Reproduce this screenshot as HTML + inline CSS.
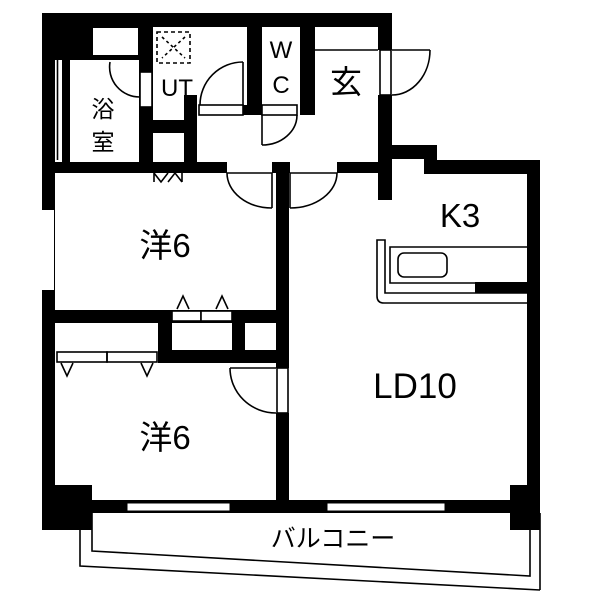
<!DOCTYPE html>
<html><head><meta charset="utf-8"><style>
html,body{margin:0;padding:0;background:#fff;}
svg{display:block;}
text{font-family:"Liberation Sans","Noto Sans CJK JP",sans-serif;fill:#000;}
</style></head><body>
<svg width="600" height="600" viewBox="0 0 600 600" xmlns="http://www.w3.org/2000/svg">
<rect width="600" height="600" fill="#fff"/>
<g fill="#000">
<rect x="42" y="13" width="350" height="14"/>
<rect x="42" y="13" width="108" height="47"/>
<rect x="42" y="13" width="13" height="500"/>
<rect x="42" y="162" width="185" height="11"/>
<rect x="272" y="162" width="18" height="11"/>
<rect x="337" y="162" width="55" height="11"/>
<rect x="62" y="60" width="8" height="102"/>
<rect x="139" y="27" width="14" height="146"/>
<rect x="153" y="120" width="43" height="13"/>
<rect x="184" y="95" width="13" height="78"/>
<rect x="247" y="27" width="15" height="88"/>
<rect x="243" y="105" width="19" height="10"/>
<rect x="300" y="27" width="15" height="88"/>
<rect x="378" y="13" width="14" height="37"/>
<rect x="378" y="95" width="14" height="105"/>
<rect x="378" y="145" width="58" height="14"/>
<rect x="424" y="145" width="13" height="27"/>
<rect x="424" y="160" width="116" height="14"/>
<rect x="527" y="160" width="13" height="370"/>
<rect x="276" y="162" width="13" height="206"/>
<rect x="276" y="413" width="13" height="100"/>
<rect x="42" y="310" width="235" height="13"/>
<rect x="158" y="310" width="14" height="53"/>
<rect x="232" y="310" width="13" height="53"/>
<rect x="158" y="350" width="131" height="13"/>
<rect x="42" y="500" width="498" height="13"/>
<rect x="42" y="485" width="50" height="45"/>
<rect x="510" y="485" width="30" height="45"/>
<rect x="475" y="282" width="52" height="11"/>
</g>
<g fill="#fff">
<rect x="93" y="28" width="45" height="27"/>
<rect x="42" y="210" width="12" height="80"/>
<rect x="127" y="503" width="103" height="8" stroke="#000" stroke-width="1"/>
<rect x="327" y="503" width="118" height="8" stroke="#000" stroke-width="1"/>
</g>
<g fill="none" stroke="#000" stroke-width="1.6">
<line x1="57.5" y1="60" x2="57.5" y2="160"/>
<rect x="140" y="72" width="12" height="35" fill="#fff"/>
<path d="M110 62 A30 30 0 0 0 140 97"/>
<rect x="157" y="32" width="33" height="31" stroke-dasharray="4,3"/>
<line x1="162" y1="37" x2="185" y2="58" stroke-dasharray="3,3"/>
<line x1="185" y1="37" x2="162" y2="58" stroke-dasharray="3,3"/>
<path d="M154 173 L161 182 L168 173 M168 182 L175 173 L182 182 M154 173 V182 M182 173V182"/>
<rect x="199" y="105" width="44" height="10" fill="#fff"/>
<line x1="243" y1="62" x2="243" y2="105"/>
<path d="M243 62 A43 43 0 0 0 200 105"/>
<rect x="262" y="105" width="35" height="10" fill="#fff"/>
<line x1="262" y1="115" x2="262" y2="145"/>
<path d="M262 145 A35 30 0 0 0 297 115"/>
<line x1="315" y1="50" x2="378" y2="50"/>
<rect x="380" y="50" width="11" height="45" fill="#fff"/>
<line x1="392" y1="50" x2="430" y2="50"/>
<path d="M430 50 A38 45 0 0 1 392 95"/>
<line x1="227" y1="173" x2="272" y2="173"/>
<line x1="272" y1="173" x2="272" y2="208"/>
<path d="M227 173 A45 35 0 0 0 272 208"/>
<line x1="290" y1="173" x2="337" y2="173"/>
<line x1="290" y1="173" x2="290" y2="208"/>
<path d="M337 173 A47 35 0 0 1 290 208"/>
<rect x="57" y="352" width="50" height="10"/>
<rect x="107" y="352" width="50" height="10"/>
<path d="M61 363 L67 376 L73 363 M141 363 L147 376 L153 363"/>
<rect x="172" y="311" width="29" height="10" fill="#fff"/>
<rect x="201" y="311" width="31" height="10" fill="#fff"/>
<path d="M177 309 L183 296 L189 309 M216 309 L222 296 L228 309"/>
<rect x="277" y="368" width="11" height="45" fill="#fff"/>
<line x1="230" y1="368" x2="276" y2="368"/>
<path d="M230 368 A46 45 0 0 0 276 413"/>
<path d="M527 247 H390 V283 H527"/>
<path d="M527 293 H385 V240 H377 V296 Q377 303 384 303 H527"/>
<rect x="398" y="253" width="49" height="24" rx="6"/>
<path d="M80 513 V566 L540 590"/>
<path d="M92 513 V551 L530 576 V513"/>
<line x1="540" y1="513" x2="540" y2="590"/>
</g>
<g>
<text x="103" y="117" font-size="23" text-anchor="middle">浴</text>
<text x="103" y="150" font-size="23" text-anchor="middle">室</text>
<text x="177" y="96" font-size="24" text-anchor="middle">UT</text>
<text x="281" y="58" font-size="24" text-anchor="middle">W</text>
<text x="281" y="93" font-size="24" text-anchor="middle">C</text>
<text x="346" y="93" font-size="32" text-anchor="middle">玄</text>
<text x="460" y="227" font-size="33" text-anchor="middle">K3</text>
<text x="165" y="257" font-size="33" text-anchor="middle">洋6</text>
<text x="165" y="449" font-size="33" text-anchor="middle">洋6</text>
<text x="415" y="398" font-size="35" text-anchor="middle">LD10</text>
<text x="333" y="547" font-size="25" text-anchor="middle">バルコニー</text>
</g>
</svg>
</body></html>
